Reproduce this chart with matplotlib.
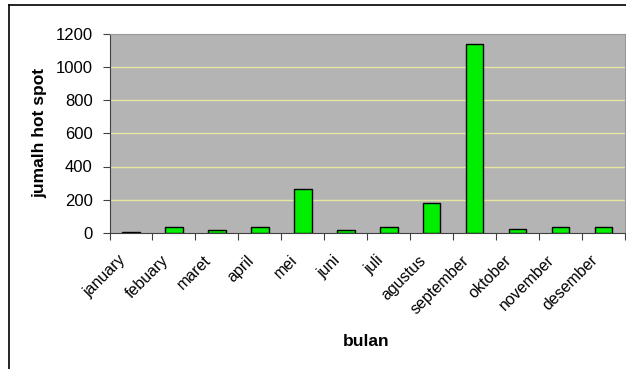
import numpy as np
import matplotlib
matplotlib.use("Agg")
import matplotlib.pyplot as plt
import matplotlib.transforms as mtransforms
from matplotlib.lines import Line2D

months = ["january", "febuary", "maret", "april", "mei", "juni", "juli",
          "agustus", "september", "oktober", "november", "desember"]
hotspots = [8, 34, 20, 34, 262, 20, 34, 182, 1134, 26, 34, 34]
yticks = [0, 200, 400, 600, 800, 1000, 1200]

plt.rcParams['font.family'] = ['Liberation Sans', 'DejaVu Sans']

fig = plt.figure(figsize=(6.26, 3.69), dpi=100)
ax = fig.add_axes([109.5 / 626, 1 - 233 / 369, 515.5 / 626, 199.5 / 369])
ax.set_facecolor("#b4b4b4")

x = np.arange(len(months))
ax.bar(x, hotspots, width=0.41, color="#00ee00", edgecolor="black",
       linewidth=1.0, zorder=3)

ax.set_ylim(0, 1200)
ax.set_xlim(-0.5, len(months) - 0.5)
ax.set_yticks(yticks)
ax.set_yticklabels([str(v) for v in yticks], fontsize=12)
for v in yticks[1:-1]:
    ax.axhline(v, color="#e6e6a0", linewidth=1.0, zorder=1)

# ticks at category boundaries, month names under the bars
ax.set_xticks(np.arange(-0.5, len(months) + 0.5, 1.0))
ax.set_xticklabels([])
ax.tick_params(axis="x", which="major", length=5, color="#404040")
ax.tick_params(axis="y", length=5, color="#404040", pad=7)

shift = mtransforms.ScaledTranslation(-5 / 100, -28 / 100, fig.dpi_scale_trans)
for i, m in enumerate(months):
    ax.text(i, 0, m, rotation=45, ha="right", va="baseline",
            rotation_mode="anchor", fontsize=11.5,
            transform=ax.get_xaxis_transform() + shift)

for side in ["left", "bottom"]:
    ax.spines[side].set_color("#404040")
for side in ["top", "right"]:
    ax.spines[side].set_color("#999999")

fig.text(40 / 626, 1 - 133 / 369, "jumalh hot spot", fontsize=12.5,
         fontweight="bold", rotation=90, ha="center", va="center")
fig.text(366 / 626, 1 - 341 / 369, "bulan", fontsize=12.5, fontweight="bold",
         ha="center", va="center")

# outer frame (left and top edge visible)
fig.add_artist(Line2D([9 / 626, 9 / 626], [0, 1 - 5 / 369],
                      transform=fig.transFigure, color="black", linewidth=1.2))
fig.add_artist(Line2D([9 / 626, 1], [1 - 5 / 369, 1 - 5 / 369],
                      transform=fig.transFigure, color="black", linewidth=1.2))

fig.savefig("out.png", dpi=100)
